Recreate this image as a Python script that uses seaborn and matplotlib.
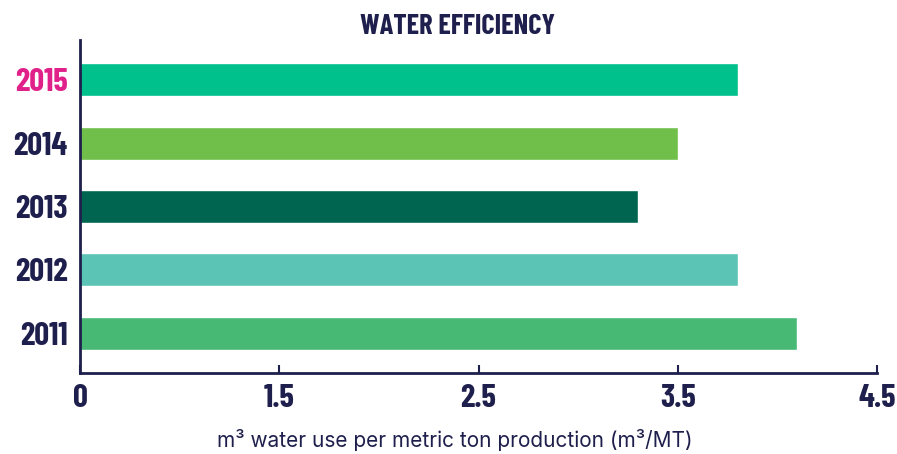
import pandas as pd
import matplotlib
matplotlib.use("Agg")
import matplotlib.pyplot as plt
from matplotlib import font_manager
import seaborn as sns

# Data
years = ["2015", "2014", "2013", "2012", "2011"]
water_use = [3.8, 3.5, 3.3, 3.8, 4.1]
bar_colors = ["#00C08B", "#70BF4A", "#006550", "#5BC4B5", "#48B975"]
tick_values = [0.5, 1.5, 2.5, 3.5, 4.5]
tick_labels = ["0", "1.5", "2.5", "3.5", "4.5"]

navy = "#1F1F4D"
pink = "#E0218A"

# pick a condensed bold family that is installed
fonts = font_manager.fontManager.ttflist
bold_names = {f.name for f in fonts if f.weight in (600, 700, 800, "bold")}
wanted = ["Barlow Condensed", "Fjalla One", "Oswald", "Roboto Condensed",
          "PT Sans Narrow", "Archivo Narrow", "Liberation Sans Narrow"]
cond = [n for n in wanted if n in bold_names or n == "Fjalla One"
        and n in {f.name for f in fonts}][:1] + ["DejaVu Sans"]
body = ["Inter", "DejaVu Sans"]

df = pd.DataFrame({"Year": years, "Water": water_use})

sns.set_style("white")
plt.rcParams["font.family"] = ["DejaVu Sans"]

fig = plt.figure(figsize=(8.97, 4.54), dpi=100)
ax = fig.add_axes([80 / 897, 1 - 373 / 454, 797 / 897, 333 / 454])

sns.barplot(data=df, x="Water", y="Year", hue="Year", order=years,
            palette=dict(zip(years, bar_colors)), legend=False,
            width=0.52, saturation=1, ax=ax)

ax.set_xlim(0.5, 4.5)
ax.set_ylim(4.63, -0.63)
ax.set_xticks(tick_values)
ax.set_xticklabels(tick_labels)
ax.set_xlabel("")
ax.set_ylabel("")

sns.despine(ax=ax)
for side in ["left", "bottom"]:
    ax.spines[side].set_color(navy)
    ax.spines[side].set_linewidth(2)

ax.tick_params(axis="x", bottom=True, direction="in", length=6, width=1.5,
               color=navy, pad=8)
ax.tick_params(axis="y", left=False, length=0, pad=9)

for lab in ax.get_xticklabels():
    lab.set_fontfamily(cond)
    lab.set_fontweight("bold")
    lab.set_fontsize(23.5)
    lab.set_color(navy)
for lab in ax.get_yticklabels():
    lab.set_fontfamily(cond)
    lab.set_fontweight("bold")
    lab.set_fontsize(23.5)
    lab.set_color(pink if lab.get_text() == "2015" else navy)

fig.text(457 / 897, 1 - 26 / 454, "WATER EFFICIENCY", ha="center", va="center",
         fontsize=20.5, fontweight="bold", color=navy, family=cond)
fig.text(455 / 897, 1 - 440 / 454,
         "m\u00b3 water use per metric ton production (m\u00b3/MT)",
         ha="center", va="center", fontsize=15, color=navy, family=body)

fig.savefig("out.png", dpi=100)
